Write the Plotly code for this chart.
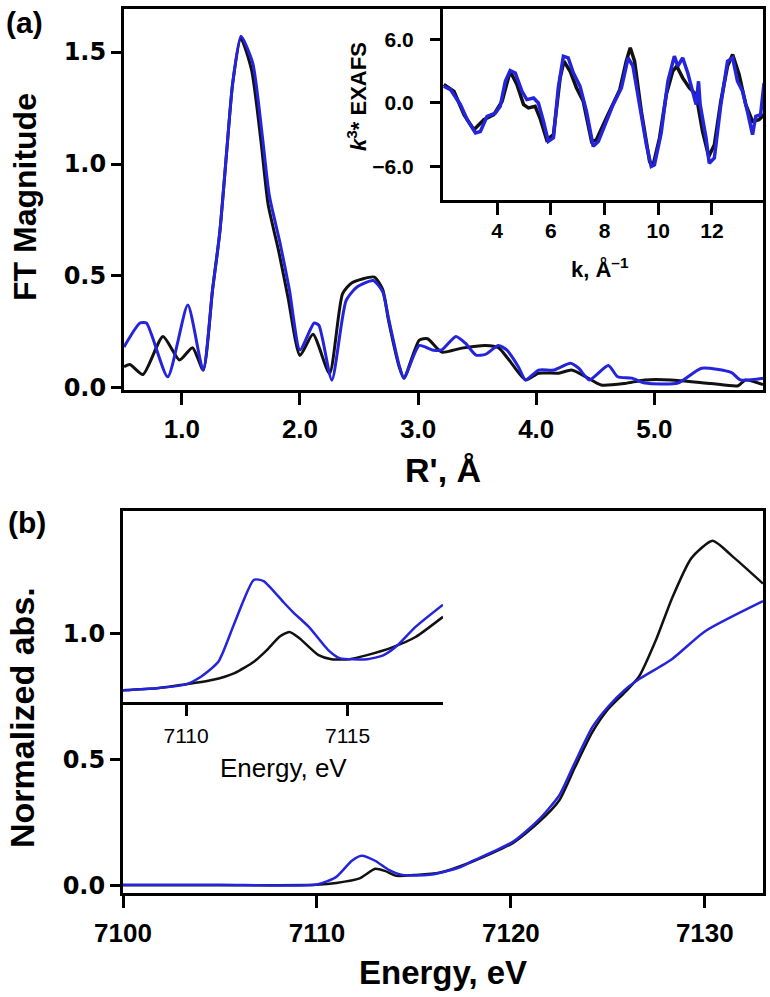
import plotly.graph_objects as go

# ---- (a) FT magnitude vs R' ----
r_black = [0.51, 0.56, 0.67, 0.84, 0.98, 1.09, 1.18, 1.26, 1.32, 1.38, 1.43, 1.50, 1.59, 1.67, 1.73,
           1.82, 1.90, 2.00, 2.11, 2.25, 2.36, 2.44, 2.63, 2.70, 2.75, 2.84, 2.88, 3.01, 3.08, 3.20,
           3.37, 3.57, 3.68, 3.77, 3.91, 4.02, 4.19, 4.30, 4.42, 4.55, 4.75, 4.92, 5.14, 5.48, 5.71,
           5.77, 5.92]
ft_black = [0.095, 0.105, 0.06, 0.23, 0.125, 0.18, 0.08, 0.44, 0.69, 1.06, 1.36, 1.56, 1.42, 1.10, 0.82,
            0.61, 0.40, 0.145, 0.24, 0.065, 0.42, 0.47, 0.495, 0.44, 0.30, 0.094, 0.044, 0.214, 0.22, 0.16,
            0.178, 0.19, 0.18, 0.125, 0.036, 0.066, 0.066, 0.08, 0.05, 0.013, 0.02, 0.036, 0.036, 0.02, 0.01,
            0.036, 0.015]
r_blue = [0.51, 0.645, 0.70, 0.88, 1.05, 1.18, 1.26, 1.32, 1.38, 1.43, 1.50, 1.60, 1.68, 1.74, 1.83,
          1.91, 2.00, 2.12, 2.16, 2.27, 2.39, 2.48, 2.62, 2.70, 2.75, 2.84, 2.88, 3.01, 3.12, 3.20,
          3.32, 3.40, 3.49, 3.57, 3.68, 3.75, 3.85, 3.91, 4.02, 4.15, 4.29, 4.36, 4.45, 4.61, 4.69,
          4.81, 4.92, 5.20, 5.40, 5.65, 5.73, 5.92]
ft_blue = [0.183, 0.29, 0.29, 0.05, 0.37, 0.08, 0.44, 0.69, 1.06, 1.36, 1.57, 1.45, 1.13, 0.86, 0.65,
           0.44, 0.17, 0.29, 0.28, 0.035, 0.39, 0.45, 0.48, 0.43, 0.31, 0.10, 0.044, 0.19, 0.17, 0.17,
           0.23, 0.20, 0.147, 0.15, 0.19, 0.17, 0.094, 0.036, 0.08, 0.08, 0.11, 0.088, 0.036, 0.10, 0.05,
           0.044, 0.022, 0.022, 0.088, 0.07, 0.036, 0.044]

# ---- (a) inset: k^3 EXAFS ----
k_black = [2.02, 2.4, 2.77, 3.14, 3.51, 3.88, 4.19, 4.49, 4.74, 4.99, 5.17, 5.42, 5.6, 5.85, 6.1,
           6.35, 6.49, 6.72, 6.96, 7.21, 7.52, 7.7, 8.07, 8.57, 8.81, 8.96, 9.12, 9.37, 9.68, 9.8,
           10.05, 10.3, 10.54, 10.69, 10.91, 11.16, 11.41, 11.65, 11.88, 12.09, 12.33, 12.58, 12.77,
           13.01, 13.26, 13.51, 13.75, 13.94]
chi_black = [1.74, 1.1, -1.1, -2.53, -1.58, -1.1, 0.16, 3.0, 1.74, -0.16, -0.47, -0.32, -1.42, -3.48, -3.0,
             2.37, 3.95, 3.0, 1.42, 0.16, -3.63, -3.48, -1.42, 1.26, 3.95, 5.21, 3.95, -0.79, -5.53, -6.0,
             -3.3, 0.79, 3.0, 3.48, 2.37, 1.42, 0.79, -2.69, -5.06, -3.95, 0.16, 3.48, 4.58,
             2.69, -0.16, -1.74, -1.58, -1.1]
k_blue = [2.02, 2.27, 2.64, 2.89, 3.2, 3.38, 3.63, 3.94, 4.12, 4.31, 4.49, 4.68, 4.93, 5.11, 5.36,
          5.54, 5.73, 5.91, 6.1, 6.28, 6.47, 6.65, 6.84, 7.09, 7.33, 7.58, 7.77, 7.95, 8.32, 8.63,
          8.88, 9.06, 9.31, 9.56, 9.74, 9.86, 10.11, 10.36, 10.6, 10.73, 10.91, 11.1, 11.28, 11.41,
          11.5, 11.56, 11.78, 11.9, 12.09, 12.33, 12.58, 12.77, 12.95, 13.14, 13.32, 13.51, 13.63,
          13.81, 13.94]
chi_blue = [1.58, 1.26, -0.16, -1.58, -2.84, -2.7, -1.26, -0.95, -0.32, 2.05, 3.07, 2.84, 1.1, 0.32, 0.47,
            0.0, -1.74, -3.63, -3.3, 1.42, 4.42, 4.27, 2.84, 1.58, -0.79, -4.1, -3.63, -2.53, -0.16, 1.42,
            4.27, 3.48, -0.16, -3.95, -6.0, -5.85, -2.84, 2.05, 4.42, 3.48, 4.27, 2.84, 1.1, -0.16,
            2.05, -0.16, -3.3, -5.7, -5.2, -0.16, 3.95, 4.27, 2.05, 1.1, -0.79, -3.0, -1.26,
            -1.1, 1.9]

# ---- (b) normalized absorption ----
e_black = [7100, 7105, 7110, 7111, 7112.2, 7113.0, 7113.5, 7114.1, 7115, 7116.3, 7118, 7120.1, 7121.4,
           7122.5, 7123.3, 7124.2, 7125.0, 7125.9, 7126.6, 7127.5, 7128.3, 7129.3, 7130.4, 7131.4, 7133]
abs_black = [0.003, 0.003, 0.005, 0.012, 0.03, 0.068, 0.06, 0.04, 0.043, 0.052, 0.096, 0.17, 0.25,
             0.34, 0.47, 0.61, 0.70, 0.77, 0.83, 0.98, 1.14, 1.30, 1.37, 1.31, 1.20]
e_blue = [7100, 7105, 7110, 7111, 7111.8, 7112.3, 7113.0, 7113.7, 7114.4, 7115.8, 7117.3, 7118, 7120.1,
          7121.4, 7122.5, 7123.3, 7124.2, 7125.0, 7125.9, 7126.6, 7128.3, 7130.0, 7133]
abs_blue = [0.005, 0.005, 0.006, 0.036, 0.10, 0.12, 0.10, 0.064, 0.044, 0.044, 0.072, 0.098, 0.175,
            0.26, 0.36, 0.49, 0.63, 0.71, 0.78, 0.82, 0.90, 1.01, 1.13]

# ---- (b) inset: pre-edge ----
e_pre_black = [7108.05, 7109.1, 7110.0, 7110.8, 7111.5, 7112.1, 7112.5, 7112.9, 7113.2, 7113.5, 7114.1,
               7114.5, 7115.06, 7115.6, 7116.4, 7117.1, 7117.95]
pre_black = [0.777, 0.785, 0.80, 0.817, 0.845, 0.89, 0.936, 0.99, 1.008, 0.984, 0.916,
             0.90, 0.90, 0.916, 0.948, 0.988, 1.068]
e_pre_blue = [7108.05, 7109.1, 7110.0, 7110.4, 7111.0, 7111.5, 7112.1, 7112.4, 7113.0, 7113.3, 7113.8,
              7114.4, 7114.75, 7115.6, 7116.1, 7116.5, 7117.1, 7117.95]
pre_blue = [0.777, 0.785, 0.80, 0.825, 0.89, 1.044, 1.215, 1.21, 1.128, 1.088, 1.028,
            0.936, 0.904, 0.90, 0.915, 0.95, 1.028, 1.116]

W, H = 770, 997
BLUE = '#2424dc'
BLACK = '#111111'
FONT = 'Liberation Sans'


def fx(p):
    return p / W


def fy(p):
    return 1 - p / H


def line(x, y, color, width, xa, ya, smooth=True):
    fig.add_trace(go.Scatter(
        x=x, y=y, mode='lines', xaxis=xa, yaxis=ya,
        line=dict(color=color, width=width, shape='spline' if smooth else 'linear', smoothing=0.6)
    ))


fig = go.Figure()

line(r_black, ft_black, BLACK, 3, 'x', 'y')
line(r_blue, ft_blue, BLUE, 3, 'x', 'y')
line(k_black, chi_black, BLACK, 3.5, 'x2', 'y2', smooth=False)
line(k_blue, chi_blue, BLUE, 3.5, 'x2', 'y2', smooth=False)
line(e_black, abs_black, BLACK, 2.5, 'x3', 'y3')
line(e_blue, abs_blue, BLUE, 2.5, 'x3', 'y3')
line(e_pre_black, pre_black, BLACK, 2.5, 'x4', 'y4')
line(e_pre_blue, pre_blue, BLUE, 2.5, 'x4', 'y4')

bold_x = dict(family=FONT, size=26, color='black', weight='bold')
bold_y = dict(family='DejaVu Sans', size=24, color='black', weight='bold')
inset_tf = dict(family=FONT, size=21, color='black', weight='bold')
axis_common = dict(showline=True, linecolor='black', linewidth=3, ticks='outside', tickcolor='black',
                   tickwidth=3, showgrid=False, zeroline=False, automargin=False)

fig.update_layout(
    width=W, height=H,
    margin=dict(l=0, r=0, t=0, b=0, pad=0),
    paper_bgcolor='white', plot_bgcolor='white',
    showlegend=False,
    xaxis=dict(axis_common, domain=[fx(124), fx(763)], range=[0.51, 5.92], anchor='y', mirror=True,
               tickvals=[1, 2, 3, 4, 5], tickformat='.1f', ticklen=12, tickfont=bold_x,
               ticklabelstandoff=2),
    yaxis=dict(axis_common, domain=[fy(390), fy(9)], range=[-0.009, 1.692], anchor='x', mirror=True,
               tickvals=[0, 0.5, 1.0, 1.5], tickformat='.1f', ticklen=10, tickfont=bold_y),
    xaxis2=dict(axis_common, domain=[fx(443), fx(763)], range=[1.99, 13.9], anchor='y2', mirror=True,
                tickvals=[4, 6, 8, 10, 12], ticklen=12, tickfont=inset_tf, ticklabelstandoff=-2),
    yaxis2=dict(axis_common, domain=[fy(200), fy(9)], range=[-9.17, 8.88], anchor='x2', mirror=True,
                tickvals=[-6, 0, 6], tickformat='.1f', ticklen=10, tickfont=inset_tf,
                ticklabelstandoff=12),
    xaxis3=dict(axis_common, domain=[fx(123), fx(763)], range=[7100, 7133], anchor='y3', mirror=True,
                tickvals=[7100, 7110, 7120, 7130], ticklen=12, tickfont=bold_x, ticklabelstandoff=3),
    yaxis3=dict(axis_common, domain=[fy(893), fy(511)], range=[-0.028, 1.488], anchor='x3', mirror=True,
                tickvals=[0, 0.5, 1.0], tickformat='.1f', ticklen=10, tickfont=bold_y),
    xaxis4=dict(axis_common, domain=[fx(123), fx(443)], range=[7108.05, 7117.95], anchor='y4',
                tickvals=[7110, 7115], ticklen=11, ticklabelstandoff=2,
                tickfont=dict(family=FONT, size=21, color='black')),
    yaxis4=dict(domain=[fy(702), fy(511)], range=[0.73, 1.488], anchor='x4', visible=False),
)


def label(text, x, y, size, angle=0, bold=True):
    fig.add_annotation(text=('<b>%s</b>' % text) if bold else text, x=fx(x), y=fy(y),
                       xref='paper', yref='paper', xanchor='center', yanchor='middle',
                       showarrow=False, textangle=angle,
                       font=dict(family=FONT, size=size, color='black'))


label('(a)', 25, 22, 30)
label('(b)', 27, 522, 30)
label('FT Magnitude', 25, 197, 32, -90)
label("R', Å", 443, 470, 34)
label('<i>k</i><sup>3</sup>* EXAFS', 357, 97, 22, -90)
label('k, Å<sup>–1</sup>', 600, 268, 22)
label('Normalized abs.', 22, 718, 34, -90)
label('Energy, eV', 443, 972, 33)
label('Energy, eV', 283, 768, 26, bold=False)

fig.write_html('out.html', config={'displayModeBar': False},
               post_script="document.body.style.margin='0px';")
